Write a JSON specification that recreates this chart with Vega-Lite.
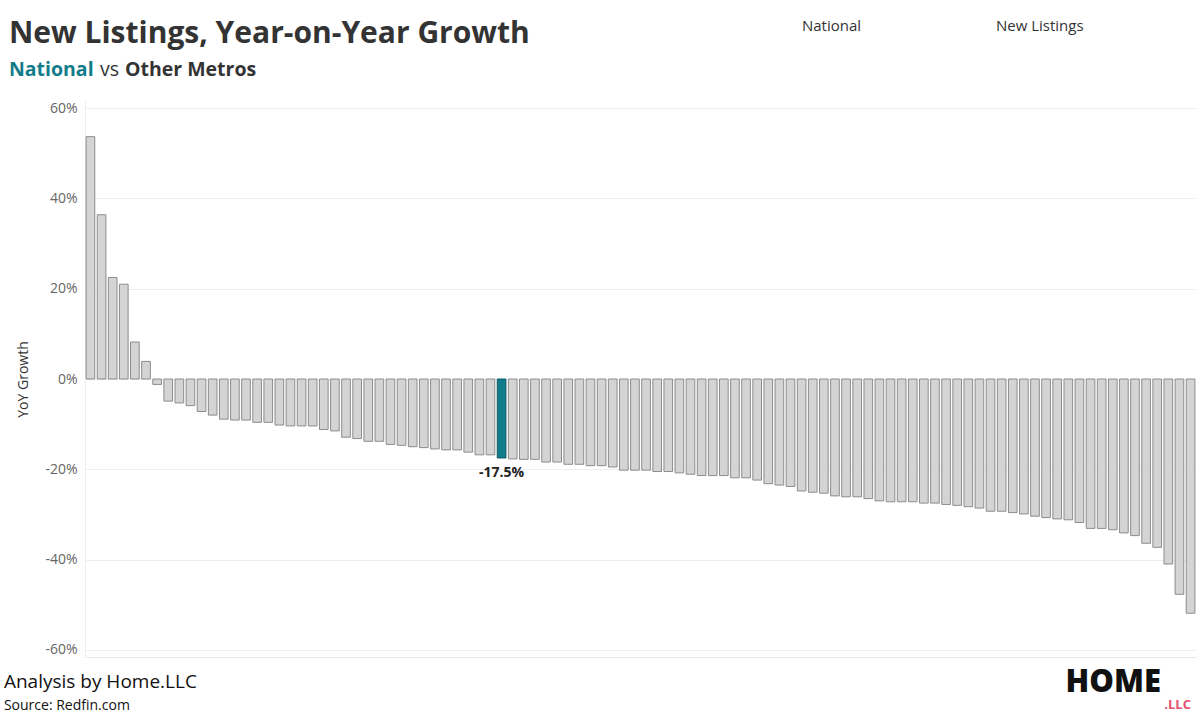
{
  "$schema": "https://vega.github.io/schema/vega-lite/v6.json",
  "padding": {"left": 3, "top": 19, "right": 3, "bottom": 0},
  "background": "white",
  "config": {
    "font": "Open Sans",
    "view": {"stroke": null},
    "concat": {"spacing": 0},
    "locale": {"number": {"decimal": ".", "thousands": ",", "grouping": [3], "currency": ["$", ""], "minus": "-"}}
  },
  "title": {"text": ".LLC", "orient": "bottom", "anchor": "end", "frame": "bounds", "offset": 0, "dx": -5, "dy": -14, "fontSize": 13, "fontWeight": "bold", "color": "#e5506f"},
  "vconcat": [{
    "title": {"text": "HOME", "orient": "bottom", "anchor": "end", "frame": "bounds", "offset": 0, "dx": -35, "dy": -45, "fontSize": 31, "fontWeight": 900, "color": "#111111"},
    "vconcat": [{
      "title": {"text": "Analysis by Home.LLC", "subtitle": "Source: Redfin.com", "orient": "bottom", "anchor": "start", "frame": "bounds", "offset": 16, "dx": -5, "fontSize": 19, "fontWeight": "normal", "color": "#111111", "subtitleFontSize": 14, "subtitleColor": "#111111", "subtitlePadding": 7},
      "vconcat": [{
        "title": {"text": "New Listings", "orient": "top", "anchor": "start", "frame": "bounds", "offset": 0, "dx": 987, "dy": 15, "fontSize": 15, "fontWeight": "normal", "color": "#333333"},
        "vconcat": [{
          "title": {"text": "National", "orient": "top", "anchor": "start", "frame": "bounds", "offset": 0, "dx": 793, "dy": 15, "fontSize": 15, "fontWeight": "normal", "color": "#333333"},
          "vconcat": [{
            "title": {"text": "Other Metros", "orient": "top", "anchor": "start", "frame": "bounds", "offset": 0, "dx": 116, "dy": 61.8, "fontSize": 19.5, "fontWeight": "bold", "color": "#333333"},
            "vconcat": [{
              "title": {"text": "vs", "orient": "top", "anchor": "start", "frame": "bounds", "offset": 0, "dx": 91, "dy": 61.8, "fontSize": 19.5, "fontWeight": "normal", "color": "#333333"},
              "vconcat": [{
                "title": {"text": "New Listings, Year-on-Year Growth", "subtitle": "National", "orient": "top", "anchor": "start", "frame": "bounds", "offset": 21.2, "dx": -8, "fontSize": 30, "fontWeight": "bold", "color": "#333333", "subtitleFontSize": 19.5, "subtitleFontWeight": "bold", "subtitleColor": "#127c8a", "subtitlePadding": 12.3},
                "width": 1111,
                "height": 556,
                "data": {"values": [
                  {"metro": "M1", "growth": 0.537, "type": "Metro"},
                  {"metro": "M2", "growth": 0.364, "type": "Metro"},
                  {"metro": "M3", "growth": 0.225, "type": "Metro"},
                  {"metro": "M4", "growth": 0.210, "type": "Metro"},
                  {"metro": "M5", "growth": 0.082, "type": "Metro"},
                  {"metro": "M6", "growth": 0.039, "type": "Metro"},
                  {"metro": "M7", "growth": -0.012, "type": "Metro"},
                  {"metro": "M8", "growth": -0.049, "type": "Metro"},
                  {"metro": "M9", "growth": -0.053, "type": "Metro"},
                  {"metro": "M10", "growth": -0.059, "type": "Metro"},
                  {"metro": "M11", "growth": -0.072, "type": "Metro"},
                  {"metro": "M12", "growth": -0.080, "type": "Metro"},
                  {"metro": "M13", "growth": -0.089, "type": "Metro"},
                  {"metro": "M14", "growth": -0.091, "type": "Metro"},
                  {"metro": "M15", "growth": -0.091, "type": "Metro"},
                  {"metro": "M16", "growth": -0.096, "type": "Metro"},
                  {"metro": "M17", "growth": -0.096, "type": "Metro"},
                  {"metro": "M18", "growth": -0.102, "type": "Metro"},
                  {"metro": "M19", "growth": -0.104, "type": "Metro"},
                  {"metro": "M20", "growth": -0.104, "type": "Metro"},
                  {"metro": "M21", "growth": -0.104, "type": "Metro"},
                  {"metro": "M22", "growth": -0.112, "type": "Metro"},
                  {"metro": "M23", "growth": -0.115, "type": "Metro"},
                  {"metro": "M24", "growth": -0.129, "type": "Metro"},
                  {"metro": "M25", "growth": -0.132, "type": "Metro"},
                  {"metro": "M26", "growth": -0.138, "type": "Metro"},
                  {"metro": "M27", "growth": -0.138, "type": "Metro"},
                  {"metro": "M28", "growth": -0.145, "type": "Metro"},
                  {"metro": "M29", "growth": -0.147, "type": "Metro"},
                  {"metro": "M30", "growth": -0.150, "type": "Metro"},
                  {"metro": "M31", "growth": -0.152, "type": "Metro"},
                  {"metro": "M32", "growth": -0.155, "type": "Metro"},
                  {"metro": "M33", "growth": -0.157, "type": "Metro"},
                  {"metro": "M34", "growth": -0.157, "type": "Metro"},
                  {"metro": "M35", "growth": -0.162, "type": "Metro"},
                  {"metro": "M36", "growth": -0.168, "type": "Metro"},
                  {"metro": "M37", "growth": -0.168, "type": "Metro"},
                  {"metro": "National", "growth": -0.175, "type": "National"},
                  {"metro": "M39", "growth": -0.177, "type": "Metro"},
                  {"metro": "M40", "growth": -0.178, "type": "Metro"},
                  {"metro": "M41", "growth": -0.178, "type": "Metro"},
                  {"metro": "M42", "growth": -0.184, "type": "Metro"},
                  {"metro": "M43", "growth": -0.184, "type": "Metro"},
                  {"metro": "M44", "growth": -0.189, "type": "Metro"},
                  {"metro": "M45", "growth": -0.189, "type": "Metro"},
                  {"metro": "M46", "growth": -0.192, "type": "Metro"},
                  {"metro": "M47", "growth": -0.192, "type": "Metro"},
                  {"metro": "M48", "growth": -0.195, "type": "Metro"},
                  {"metro": "M49", "growth": -0.202, "type": "Metro"},
                  {"metro": "M50", "growth": -0.202, "type": "Metro"},
                  {"metro": "M51", "growth": -0.202, "type": "Metro"},
                  {"metro": "M52", "growth": -0.205, "type": "Metro"},
                  {"metro": "M53", "growth": -0.205, "type": "Metro"},
                  {"metro": "M54", "growth": -0.208, "type": "Metro"},
                  {"metro": "M55", "growth": -0.211, "type": "Metro"},
                  {"metro": "M56", "growth": -0.214, "type": "Metro"},
                  {"metro": "M57", "growth": -0.214, "type": "Metro"},
                  {"metro": "M58", "growth": -0.214, "type": "Metro"},
                  {"metro": "M59", "growth": -0.219, "type": "Metro"},
                  {"metro": "M60", "growth": -0.219, "type": "Metro"},
                  {"metro": "M61", "growth": -0.224, "type": "Metro"},
                  {"metro": "M62", "growth": -0.232, "type": "Metro"},
                  {"metro": "M63", "growth": -0.235, "type": "Metro"},
                  {"metro": "M64", "growth": -0.238, "type": "Metro"},
                  {"metro": "M65", "growth": -0.248, "type": "Metro"},
                  {"metro": "M66", "growth": -0.251, "type": "Metro"},
                  {"metro": "M67", "growth": -0.253, "type": "Metro"},
                  {"metro": "M68", "growth": -0.259, "type": "Metro"},
                  {"metro": "M69", "growth": -0.261, "type": "Metro"},
                  {"metro": "M70", "growth": -0.261, "type": "Metro"},
                  {"metro": "M71", "growth": -0.265, "type": "Metro"},
                  {"metro": "M72", "growth": -0.270, "type": "Metro"},
                  {"metro": "M73", "growth": -0.272, "type": "Metro"},
                  {"metro": "M74", "growth": -0.272, "type": "Metro"},
                  {"metro": "M75", "growth": -0.272, "type": "Metro"},
                  {"metro": "M76", "growth": -0.275, "type": "Metro"},
                  {"metro": "M77", "growth": -0.275, "type": "Metro"},
                  {"metro": "M78", "growth": -0.278, "type": "Metro"},
                  {"metro": "M79", "growth": -0.280, "type": "Metro"},
                  {"metro": "M80", "growth": -0.283, "type": "Metro"},
                  {"metro": "M81", "growth": -0.286, "type": "Metro"},
                  {"metro": "M82", "growth": -0.293, "type": "Metro"},
                  {"metro": "M83", "growth": -0.293, "type": "Metro"},
                  {"metro": "M84", "growth": -0.296, "type": "Metro"},
                  {"metro": "M85", "growth": -0.299, "type": "Metro"},
                  {"metro": "M86", "growth": -0.304, "type": "Metro"},
                  {"metro": "M87", "growth": -0.307, "type": "Metro"},
                  {"metro": "M88", "growth": -0.310, "type": "Metro"},
                  {"metro": "M89", "growth": -0.312, "type": "Metro"},
                  {"metro": "M90", "growth": -0.318, "type": "Metro"},
                  {"metro": "M91", "growth": -0.331, "type": "Metro"},
                  {"metro": "M92", "growth": -0.331, "type": "Metro"},
                  {"metro": "M93", "growth": -0.334, "type": "Metro"},
                  {"metro": "M94", "growth": -0.341, "type": "Metro"},
                  {"metro": "M95", "growth": -0.347, "type": "Metro"},
                  {"metro": "M96", "growth": -0.364, "type": "Metro"},
                  {"metro": "M97", "growth": -0.373, "type": "Metro"},
                  {"metro": "M98", "growth": -0.410, "type": "Metro"},
                  {"metro": "M99", "growth": -0.477, "type": "Metro"},
                  {"metro": "M100", "growth": -0.519, "type": "Metro"}
                ]},
                "encoding": {
                  "x": {"field": "metro", "type": "nominal", "sort": null,
                        "scale": {"paddingInner": 0.22, "paddingOuter": 0.1},
                        "axis": {"labels": false, "ticks": false, "title": null, "domain": true, "domainColor": "#e6e6e6", "grid": false}},
                  "y": {"field": "growth", "type": "quantitative",
                        "scale": {"domain": [-0.616, 0.616], "nice": false},
                        "axis": {"title": "YoY Growth", "values": [-0.6, -0.4, -0.2, 0, 0.2, 0.4, 0.6], "format": ".0%",
                                 "ticks": false, "labelPadding": 8, "labelFontSize": 14, "labelColor": "#666666",
                                 "titleFontSize": 14, "titleFontWeight": "normal", "titleColor": "#333333", "titlePadding": 14,
                                 "grid": true, "gridColor": "#eeeeee", "domain": true, "domainColor": "#eeeeee"}}
                },
                "layer": [
                  {
                    "mark": {"type": "bar", "strokeWidth": 1},
                    "encoding": {
                      "fill": {"field": "type", "type": "nominal", "scale": {"domain": ["Metro", "National"], "range": ["#d4d4d4", "#127c8a"]}, "legend": null},
                      "stroke": {"field": "type", "type": "nominal", "scale": {"domain": ["Metro", "National"], "range": ["#8c8c8c", "#0d5a64"]}, "legend": null}
                    }
                  },
                  {
                    "transform": [{"filter": "datum.type === 'National'"}],
                    "mark": {"type": "text", "baseline": "top", "dy": 8, "fontSize": 14, "fontWeight": "bold", "color": "#222222"},
                    "encoding": {"text": {"field": "growth", "type": "quantitative", "format": ".1%"}}
                  }
                ]
              }]
            }]
          }]
        }]
      }]
    }]
  }]
}
